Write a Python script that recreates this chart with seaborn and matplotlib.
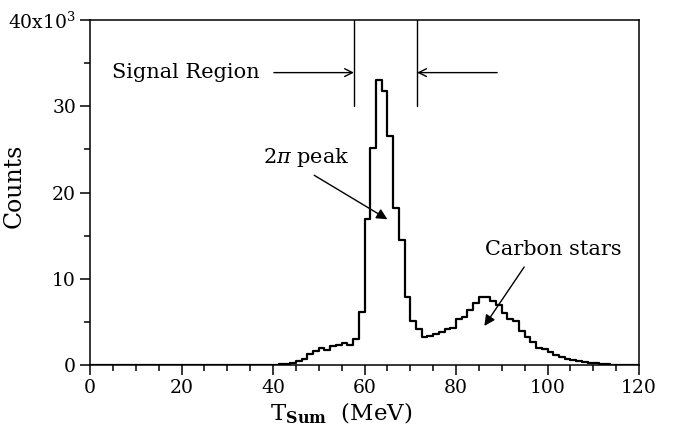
import numpy as np
import pandas as pd
import matplotlib
matplotlib.use("Agg")
import matplotlib.pyplot as plt
import seaborn as sns

# ---- data (counts in units of 10^3, 1.25 MeV bins) ----
bin_width = 1.25
bin_low = [38.75, 40.0, 41.25, 42.5, 43.75, 45.0, 46.25, 47.5, 48.75, 50.0,
           51.25, 52.5, 53.75, 55.0, 56.25, 57.5, 58.75, 60.0, 61.25, 62.5,
           63.75, 65.0, 66.25, 67.5, 68.75, 70.0, 71.25, 72.5, 73.75, 75.0,
           76.25, 77.5, 78.75, 80.0, 81.25, 82.5, 83.75, 85.0, 86.25, 87.5,
           88.75, 90.0, 91.25, 92.5, 93.75, 95.0, 96.25, 97.5, 98.75, 100.0,
           101.25, 102.5, 103.75, 105.0, 106.25, 107.5, 108.75, 110.0, 111.25, 112.5,
           113.75, 115.0, 116.25]
counts = [0.01, 0.04, 0.08, 0.15, 0.27, 0.43, 0.74, 1.24, 1.59, 1.95,
          1.76, 2.18, 2.3, 2.55, 2.3, 3.02, 6.1, 16.9, 25.2, 33.1,
          31.8, 26.6, 18.2, 14.45, 7.87, 5.08, 4.22, 3.3, 3.37, 3.6,
          3.88, 4.15, 4.3, 5.35, 5.55, 6.4, 7.17, 7.9, 7.85, 7.4,
          6.95, 6.0, 5.3, 5.1, 3.95, 3.2, 2.67, 2.0, 1.86, 1.55,
          1.16, 0.97, 0.7, 0.62, 0.5, 0.35, 0.27, 0.19, 0.12, 0.08,
          0.05, 0.03, 0.01]
x_ticks = [0, 20, 40, 60, 80, 100, 120]
y_ticks = [0, 10, 20, 30, 40]
y_tick_labels = ["0", "10", "20", "30", r"40x10$^{\mathregular{3}}$"]
signal_region = [57.7, 71.5]

df = pd.DataFrame({"T": np.array(bin_low) + bin_width / 2, "N": counts})

sns.set_theme(style="ticks")
plt.rcParams["font.family"] = ["DejaVu Serif"]
plt.rcParams["mathtext.fontset"] = "dejavuserif"
plt.rcParams["text.color"] = "black"
plt.rcParams["axes.labelcolor"] = "black"
plt.rcParams["xtick.color"] = "black"
plt.rcParams["ytick.color"] = "black"

fig = plt.figure(figsize=(6.78, 4.41), dpi=100)
ax = fig.add_axes([90 / 678, 1 - 365 / 441, 549 / 678, 345 / 441])

sns.histplot(data=df, x="T", weights="N", binwidth=bin_width, binrange=(0, 120),
             element="step", fill=False, color="black", linewidth=1.6, ax=ax)

ax.set_xlim(0, 120)
ax.set_ylim(0, 40)
ax.set_xticks(x_ticks)
ax.set_xticks(np.arange(0, 121, 5), minor=True)
ax.set_yticks(y_ticks)
ax.set_yticklabels(y_tick_labels)
ax.set_yticks(np.arange(0, 41, 5), minor=True)
for s in ax.spines.values():
    s.set_visible(True)
    s.set_linewidth(1.1)
    s.set_color("black")
ax.tick_params(which="major", direction="out", length=7, width=1.1,
               labelsize=13.5, colors="black", pad=3)
ax.tick_params(which="minor", direction="out", length=4, width=1.1)
ax.tick_params(top=False, right=False, which="both")

ax.set_xlabel(r"T$_{\mathbf{Sum}}$  (MeV)", fontsize=16.5)
ax.set_ylabel("Counts", fontsize=17)
ax.xaxis.set_label_coords((341 - 90) / 549, -0.105)
ax.yaxis.set_label_coords(-0.118, 0.52)

# signal region markers
for xv in signal_region:
    ax.plot([xv, xv], [30.0, 40], color="black", lw=1.0)
ax.annotate("", xy=(signal_region[0], 33.9), xytext=(40.2, 33.9),
            arrowprops=dict(arrowstyle="->", color="black", lw=1.0,
                            mutation_scale=14, shrinkA=0, shrinkB=0))
ax.annotate("", xy=(signal_region[1], 33.9), xytext=(89.0, 33.9),
            arrowprops=dict(arrowstyle="->", color="black", lw=1.0,
                            mutation_scale=14, shrinkA=0, shrinkB=0))
ax.text(4.9, 33.9, "Signal Region", fontsize=15, va="center", ha="left")

ax.text(47.2, 24.1, r"2$\pi$ peak", fontsize=15, va="center", ha="center")
ax.annotate("", xy=(65.0, 16.9), xytext=(49.0, 22.0),
            arrowprops=dict(arrowstyle="-|>", color="black", lw=1.0,
                            mutation_scale=16, shrinkA=0, shrinkB=0))

ax.text(101.2, 13.4, "Carbon stars", fontsize=15, va="center", ha="center")
ax.annotate("", xy=(86.2, 4.53), xytext=(94.9, 11.36),
            arrowprops=dict(arrowstyle="-|>", color="black", lw=1.0,
                            mutation_scale=16, shrinkA=0, shrinkB=0))

fig.savefig("out.png", dpi=100)
